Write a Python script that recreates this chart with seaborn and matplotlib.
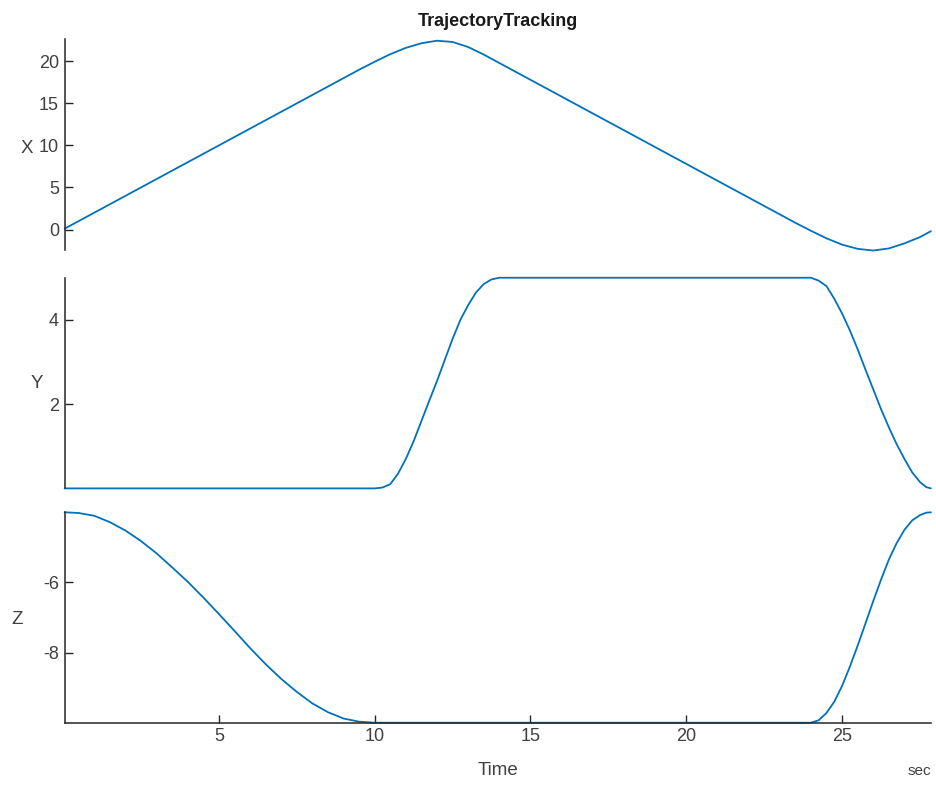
import matplotlib
matplotlib.use("Agg")
import matplotlib.pyplot as plt
import pandas as pd
import seaborn as sns


# X trajectory (time in sec, position)
t_x = [0.05, 0.5, 1.0, 1.5, 2.0, 2.5, 3.0, 3.5, 4.0, 4.5, 5.0, 5.5, 6.0, 6.5,
       7.0, 7.5, 8.0, 8.5, 9.0, 9.5, 10.0, 10.5, 11.0, 11.5, 12.0, 12.5, 13.0,
       13.5, 14.0, 14.5, 15.0, 15.5, 16.0, 16.5, 17.0, 17.5, 18.0, 18.5, 19.0,
       19.5, 20.0, 20.5, 21.0, 21.5, 22.0, 22.5, 23.0, 23.5, 24.0, 24.5, 25.0,
       25.5, 26.0, 26.5, 27.0, 27.5, 27.85]
x_pos = [0.1, 1.0, 2.0, 3.0, 4.0, 5.0, 6.0, 7.0, 8.0, 9.0, 10.0, 11.0, 12.0, 13.0,
         14.0, 15.0, 16.0, 17.0, 18.0, 19.0, 19.95, 20.85, 21.6, 22.15, 22.45, 22.3,
         21.7, 20.8, 19.8, 18.8, 17.8, 16.8, 15.8, 14.8, 13.8, 12.8, 11.8, 10.8,
         9.8, 8.8, 7.8, 6.8, 5.8, 4.8, 3.8, 2.8, 1.8, 0.8, -0.15, -1.05, -1.8,
         -2.3, -2.5, -2.25, -1.65, -0.9, -0.2]

# Y trajectory
t_y = [0.05, 10.0, 10.25, 10.5, 10.75, 11.0, 11.25, 11.5, 11.75, 12.0, 12.25,
       12.5, 12.75, 13.0, 13.25, 13.5, 13.75, 14.0, 24.0, 24.25, 24.5, 24.75,
       25.0, 25.25, 25.5, 25.75, 26.0, 26.25, 26.5, 26.75, 27.0, 27.25, 27.5,
       27.7, 27.85]
y_pos = [0.0, 0.0, 0.02, 0.1, 0.35, 0.7, 1.12, 1.6, 2.08, 2.55, 3.05,
         3.55, 4.0, 4.35, 4.65, 4.85, 4.96, 5.0, 5.0, 4.93, 4.8, 4.5,
         4.15, 3.75, 3.3, 2.82, 2.35, 1.88, 1.45, 1.05, 0.7, 0.38, 0.15,
         0.03, 0.0]

# Z trajectory
t_z = [0.05, 0.5, 1.0, 1.5, 2.0, 2.5, 3.0, 3.5, 4.0, 4.5, 5.0, 5.5, 6.0, 6.5,
       7.0, 7.5, 8.0, 8.5, 9.0, 9.5, 10.0, 24.0, 24.25, 24.5, 24.75, 25.0,
       25.25, 25.5, 25.75, 26.0, 26.25, 26.5, 26.75, 27.0, 27.25, 27.5, 27.7,
       27.85]
z_pos = [-4.0, -4.02, -4.1, -4.28, -4.52, -4.82, -5.17, -5.57, -5.98, -6.43,
         -6.9, -7.38, -7.87, -8.33, -8.75, -9.12, -9.45, -9.7, -9.88, -9.97,
         -10.0, -10.0, -9.93, -9.72, -9.4, -8.95, -8.4, -7.8, -7.17, -6.53,
         -5.92, -5.35, -4.88, -4.5, -4.23, -4.08, -4.01, -4.0]

y_ticks = {"X": [0, 5, 10, 15, 20], "Y": [2, 4], "Z": [-8, -6]}
y_limits = {"X": (-2.45, 22.6), "Y": (0, 5), "Z": (-10, -4)}
x_ticks = [5, 10, 15, 20, 25]

sns.set_style("white")
plt.rcParams["font.family"] = ["Liberation Sans", "DejaVu Sans"]
plt.rcParams["axes.unicode_minus"] = False

LINE_COLOR = "#0072BD"
AX_COLOR = "#262626"
TXT_COLOR = "#404040"

frames = {
    "X": pd.DataFrame({"Time": t_x, "X": x_pos}),
    "Y": pd.DataFrame({"Time": t_y, "Y": y_pos}),
    "Z": pd.DataFrame({"Time": t_z, "Z": z_pos}),
}

fig = plt.figure(figsize=(9.37, 7.89), dpi=100)
left, width = 0.069, 0.9245
rects = {"X": (left, 0.683, width, 0.267),
         "Y": (left, 0.381, width, 0.267),
         "Z": (left, 0.084, width, 0.2667)}
label_xy = {"X": (-0.044, 0.48), "Y": (-0.032, 0.50), "Z": (-0.055, 0.49)}

for name in ["X", "Y", "Z"]:
    ax = fig.add_axes(rects[name])
    sns.lineplot(data=frames[name], x="Time", y=name, ax=ax, color=LINE_COLOR,
                 linewidth=1.3, clip_on=False)
    ax.set_xlim(0.05, 27.85)
    ax.set_ylim(*y_limits[name])
    ax.set_yticks(y_ticks[name])
    ax.set_xticks(x_ticks)
    ax.tick_params(axis="both", direction="in", length=6, width=1,
                   color=AX_COLOR, labelcolor=TXT_COLOR, labelsize=13, pad=4)
    ax.tick_params(axis="y", left=True)
    for side in ["top", "right"]:
        ax.spines[side].set_visible(False)
    ax.spines["left"].set_color(AX_COLOR)
    ax.spines["left"].set_linewidth(1.1)
    ax.set_ylabel(name, rotation=0, ha="center", va="center",
                  fontsize=13.5, color=TXT_COLOR)
    ax.yaxis.set_label_coords(*label_xy[name])
    if name == "Z":
        ax.spines["bottom"].set_color(AX_COLOR)
        ax.spines["bottom"].set_linewidth(1.1)
        ax.tick_params(axis="x", bottom=True)
        ax.set_xlabel("Time", fontsize=13.5, color=TXT_COLOR, labelpad=12)
        ax.text(1.0, -0.23, "sec", transform=ax.transAxes, ha="right",
                va="center", fontsize=11, color=TXT_COLOR)
    else:
        ax.spines["bottom"].set_visible(False)
        ax.set_xlabel("")
        ax.tick_params(axis="x", bottom=False, labelbottom=False)
    if name == "X":
        ax.set_title("TrajectoryTracking", fontsize=13, fontweight="bold",
                     color="#1a1a1a", pad=10)

plt.savefig("out.png", dpi=100)
